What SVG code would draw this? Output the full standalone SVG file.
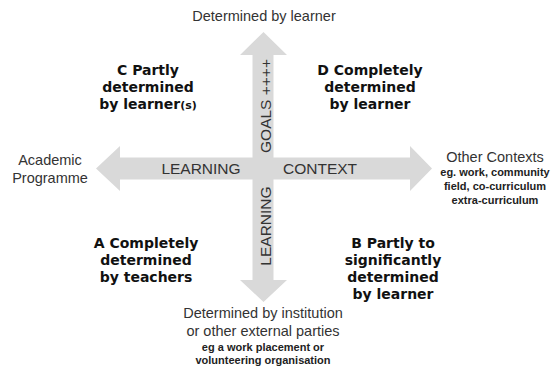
<svg xmlns="http://www.w3.org/2000/svg" width="558" height="369" viewBox="0 0 558 369">
<style>
.lab{font-family:"Liberation Sans",Arial,sans-serif;fill:#333;text-anchor:middle}
.big{font-size:14.5px}
.sm{font-size:11px;font-weight:bold;fill:#222}
.ax{font-family:"Liberation Sans",Arial,sans-serif;fill:#333;font-size:15.5px;text-anchor:middle}
.q{font-family:"DejaVu Sans",Verdana,sans-serif;font-weight:bold;font-size:14px;fill:#111;text-anchor:middle}
.arr{fill:#d9d9d9}
</style>
<g id="connectors">
<polygon class="arr" points="263.5,32 287,55 273.5,55 273.5,280 287,280 263.5,302 240,280 252.5,280 252.5,55 240,55"/>
<polygon class="arr" points="96,168.5 120,146 120,157.5 410,157.5 410,146 432,168.5 410,191 410,179.5 120,179.5 120,191"/>
</g>
<g id="axis-labels">
<text class="ax" x="201" y="174">LEARNING</text>
<text class="ax" x="320" y="174">CONTEXT</text>
<text class="ax" transform="translate(270.5,106) rotate(-90)">GOALS ++++</text>
<text class="ax" transform="translate(270.5,226) rotate(-90)">LEARNING</text>
</g>
<g id="top">
<text class="lab big" x="264" y="21">Determined by learner</text>
</g>
<g id="left">
<text class="lab big" x="50" y="165">Academic</text>
<text class="lab big" x="50" y="183">Programme</text>
</g>
<g id="right">
<text class="lab big" x="495" y="162">Other Contexts</text>
<text class="lab sm" x="495" y="176">eg. work, community</text>
<text class="lab sm" x="495" y="190">field, co-curriculum</text>
<text class="lab sm" x="495" y="204">extra-curriculum</text>
</g>
<g id="bottom">
<text class="lab big" x="263" y="318">Determined by institution</text>
<text class="lab big" x="263" y="336">or other external parties</text>
<text class="lab sm" x="263" y="351">eg a work placement or</text>
<text class="lab sm" x="263" y="364">volunteering organisation</text>
</g>
<g id="quadrant-C">
<text class="q" x="148" y="75">C Partly</text>
<text class="q" x="148" y="92">determined</text>
<text class="q" x="148" y="109">by learner<tspan font-size="11">(s)</tspan></text>
</g>
<g id="quadrant-D">
<text class="q" x="370" y="75">D Completely</text>
<text class="q" x="370" y="92">determined</text>
<text class="q" x="370" y="109">by learner</text>
</g>
<g id="quadrant-A">
<text class="q" x="146" y="248">A Completely</text>
<text class="q" x="146" y="265">determined</text>
<text class="q" x="146" y="282">by teachers</text>
</g>
<g id="quadrant-B">
<text class="q" x="393" y="248">B Partly to</text>
<text class="q" x="393" y="265">significantly</text>
<text class="q" x="393" y="282">determined</text>
<text class="q" x="393" y="299">by learner</text>
</g>
</svg>
